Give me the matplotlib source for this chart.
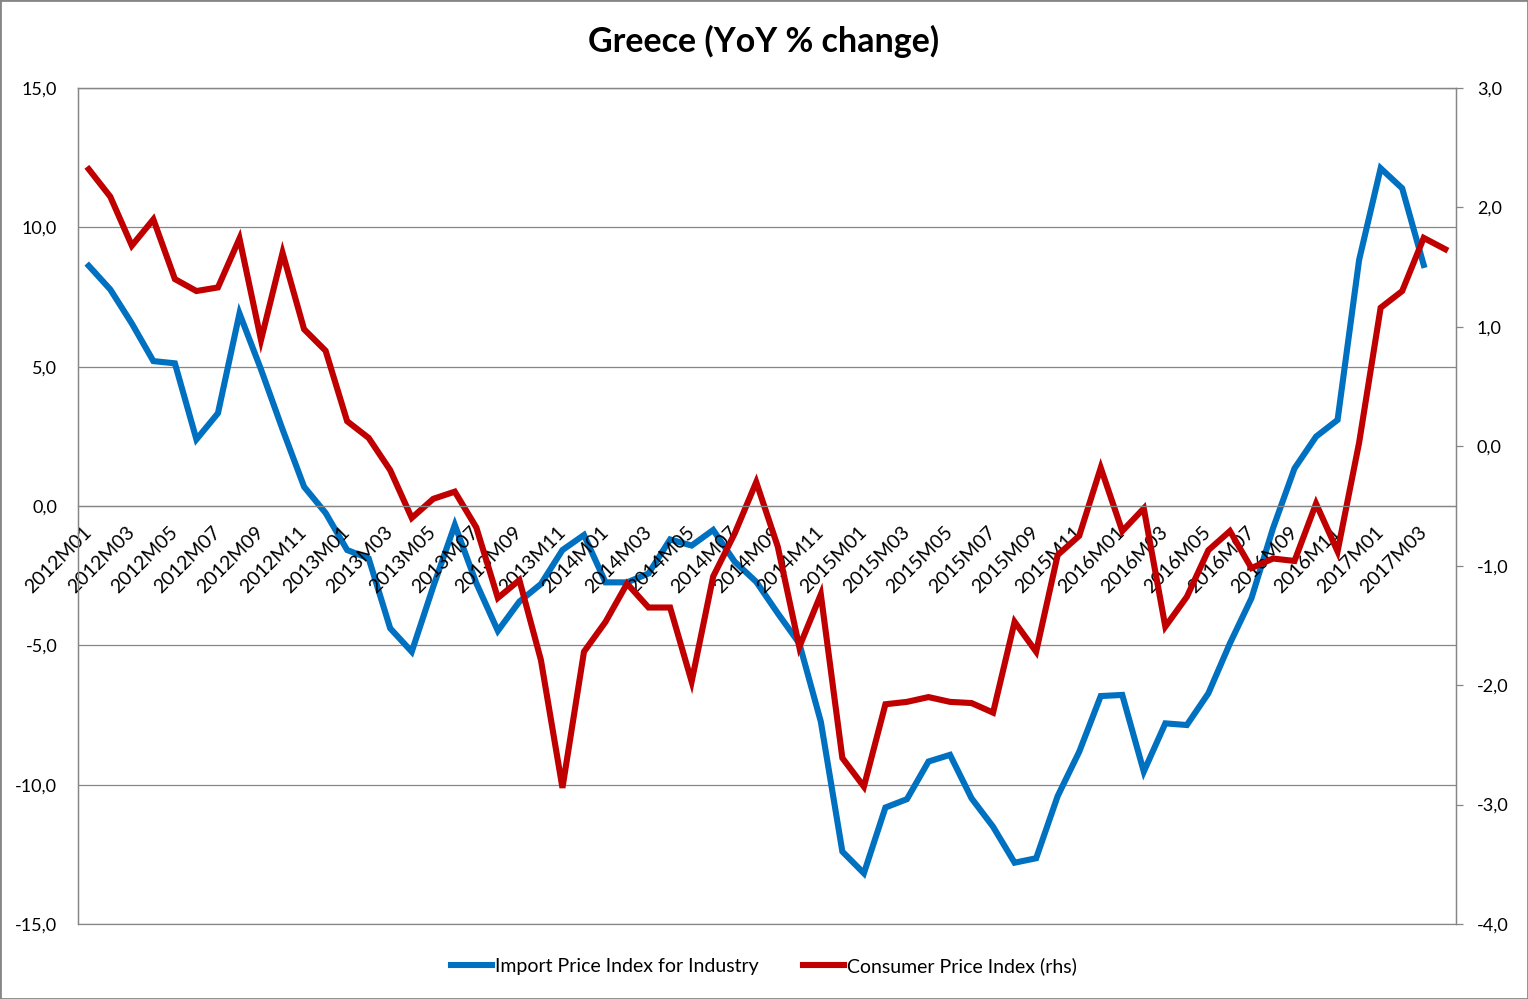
import numpy as np
import matplotlib
matplotlib.use("Agg")
import matplotlib.pyplot as plt
from matplotlib.ticker import FuncFormatter, MultipleLocator
from matplotlib.patches import Rectangle

plt.rcParams['font.family'] = ['Lato', 'DejaVu Sans']

# Months 2012M01 .. 2017M04
months = [f"{y}M{m:02d}" for y in range(2012, 2018) for m in range(1, 13)][:64]

# Import Price Index for Industry (lhs), no value for the last month
import_prices = [8.62, 7.77, 6.55, 5.20, 5.12, 2.39, 3.33, 6.91, 4.90, 2.75,
                 0.69, -0.25, -1.58, -1.88, -4.39, -5.23, -2.89, -0.68, -2.77, -4.48,
                 -3.43, -2.80, -1.58, -1.04, -2.74, -2.74, -2.42, -1.20, -1.42, -0.86,
                 -2.00, -2.72, -3.85, -4.93, -7.74, -12.40, -13.18, -10.82, -10.52, -9.17,
                 -8.93, -10.49, -11.51, -12.80, -12.64, -10.41, -8.82, -6.82, -6.78, -9.53,
                 -7.80, -7.86, -6.72, -4.93, -3.31, -0.80, 1.35, 2.49, 3.09, 8.83,
                 12.12, 11.40, 8.65, np.nan]

# Consumer Price Index (rhs)
cpi = [2.32, 2.09, 1.68, 1.90, 1.40, 1.30, 1.33, 1.74, 0.89, 1.62,
       0.98, 0.80, 0.21, 0.07, -0.20, -0.60, -0.44, -0.38, -0.68, -1.27,
       -1.12, -1.79, -2.86, -1.72, -1.47, -1.15, -1.35, -1.35, -1.97, -1.09,
       -0.73, -0.30, -0.84, -1.68, -1.24, -2.61, -2.85, -2.16, -2.14, -2.10,
       -2.14, -2.15, -2.23, -1.47, -1.72, -0.91, -0.75, -0.18, -0.71, -0.52,
       -1.51, -1.26, -0.87, -0.71, -1.02, -0.94, -0.96, -0.48, -0.88, 0.03,
       1.16, 1.30, 1.745, 1.65]

grey = '#868686'
comma_fmt = FuncFormatter(lambda v, p: f"{v:.1f}".replace('.', ','))

fig = plt.figure(figsize=(15.28, 9.99), dpi=100)
ax1 = fig.add_axes([78 / 1528, 1 - 924 / 999, (1456 - 78) / 1528, (924 - 88) / 999])
ax2 = ax1.twinx()

x = np.arange(len(months))
l1, = ax1.plot(x, import_prices, color='#0070C0', lw=4.4, solid_joinstyle='miter',
               label='Import Price Index for Industry')
l2, = ax2.plot(x, cpi, color='#C00000', lw=4.4, solid_joinstyle='miter',
               label='Consumer Price Index (rhs)')

ax1.set_xlim(-0.5, len(months) - 0.5)
ax1.set_ylim(-15, 15)
ax2.set_ylim(-4, 3)
ax1.yaxis.set_major_locator(MultipleLocator(5))
ax2.yaxis.set_major_locator(MultipleLocator(1))
ax1.yaxis.set_major_formatter(comma_fmt)
ax2.yaxis.set_major_formatter(comma_fmt)

ax1.grid(axis='y', color=grey, lw=0.9)
ax1.set_axisbelow(True)
for ax in (ax1, ax2):
    for s in ax.spines.values():
        s.set_color(grey)
        s.set_linewidth(0.9)

ax1.tick_params(axis='y', length=0, pad=15, labelsize=13)
ax2.tick_params(axis='y', length=5, width=0.9, color=grey, pad=10, labelsize=13)

# category axis crosses at zero of the left axis; labels on ax2 so they sit above the lines
ax1.tick_params(axis='x', length=0, labelbottom=False)
ax2.xaxis.set_visible(True)
ax2.spines['bottom'].set_position(('axes', 0.5))
ax2.set_xticks(x[::2])
ax2.set_xticklabels(months[::2], rotation=45, ha='right', va='center',
                    rotation_mode='anchor', fontsize=14)
ax2.tick_params(axis='x', length=0, pad=17, labeltop=False, labelbottom=True)

fig.text(0.5, 1 - 41 / 999, 'Greece (YoY % change)', ha='center', va='center',
         fontsize=24.5, fontweight='bold')

fig.legend(handles=[l1, l2], loc='center', bbox_to_anchor=(0.5, 0.033), ncol=2,
           frameon=False, fontsize=14, handlelength=2.1, handletextpad=0.15,
           columnspacing=2.3)

fig.patches.append(Rectangle((0, 0), 1, 1, transform=fig.transFigure, fill=False,
                             edgecolor=grey, lw=2))

plt.savefig('out.png', dpi=100)
